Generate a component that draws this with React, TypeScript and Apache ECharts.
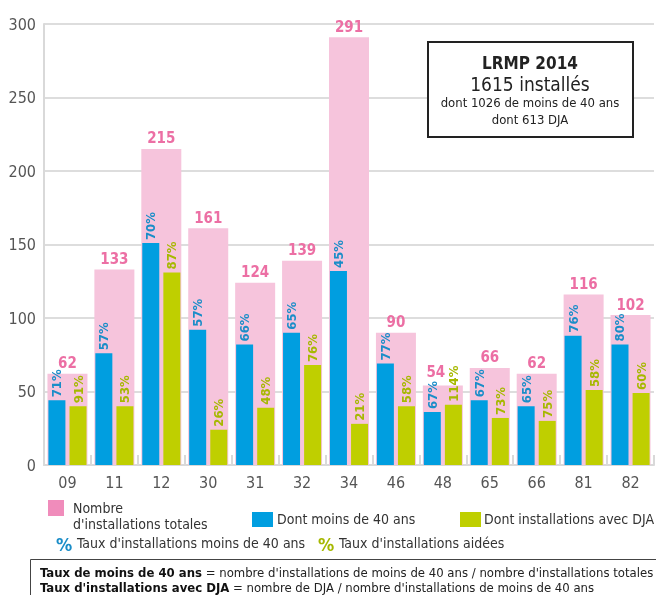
import React, { useEffect, useRef } from "react";
import * as echarts from "echarts";

const categories = ["09", "11", "12", "30", "31", "32", "34", "46", "48", "65", "66", "81", "82"];
const totalInstallations = [62, 133, 215, 161, 124, 139, 291, 90, 54, 66, 62, 116, 102];
const under40 = [44, 76, 151, 92, 82, 90, 132, 69, 36, 44, 40, 88, 82];
const withDJA = [40, 40, 131, 24, 39, 68, 28, 40, 41, 32, 30, 51, 49];
const under40Pct = [71, 57, 70, 57, 66, 65, 45, 77, 67, 67, 65, 76, 80];
const djaPct = [91, 53, 87, 26, 48, 76, 21, 58, 114, 73, 75, 58, 60];
const yTicks = { min: 0, max: 300, interval: 50 };

const FONT = "'Liberation Sans Narrow', 'DejaVu Sans Condensed', 'Roboto', sans-serif";
const PINK_BAR = "#f6c4dc";
const PINK_SWATCH = "#f08cbb";
const PINK_TEXT = "#ec6fa4";
const BLUE = "#009ee0";
const BLUE_TEXT = "#1a8dc8";
const GREEN = "#bfcf00";
const GREEN_TEXT = "#a6b800";

export default function App() {
  const ref = useRef<HTMLDivElement>(null);
  useEffect(() => {
    if (!ref.current) return;
    const chart = echarts.init(ref.current, null, { renderer: "svg" });
    const pctLabel = (arr: number[], color: string) => ({
      show: true,
      position: "top",
      rotate: 90,
      align: "left",
      verticalAlign: "middle",
      distance: 3,
      fontFamily: FONT,
      fontWeight: "bold",
      fontSize: 13,
      color,
      formatter: (p: any) => arr[p.dataIndex] + "%",
    });
    // the label of a short pink bar is nudged left when the green percentage label would overlap it
    const pinkData = totalInstallations.map((v, i) =>
      djaPct[i] > 100 ? { value: v, label: { offset: [-7, -3] } } : v
    );
    chart.setOption({
      animation: false,
      textStyle: { fontFamily: FONT },
      grid: { left: 44, right: 2, top: 24, bottom: 130, containLabel: false },
      xAxis: [
        {
          type: "category",
          data: categories,
          axisLine: { show: true, lineStyle: { color: "#d9d9d9", width: 2 } },
          axisTick: { show: true, inside: true, length: 10, lineStyle: { color: "#d9d9d9", width: 2 } },
          axisLabel: { color: "#555", fontSize: 16, margin: 9, fontFamily: FONT },
        },
        {
          type: "category",
          data: categories,
          show: false,
          position: "bottom",
        },
      ],
      yAxis: {
        type: "value",
        min: yTicks.min,
        max: yTicks.max,
        interval: yTicks.interval,
        axisLine: { show: true, lineStyle: { color: "#d9d9d9", width: 2 } },
        axisTick: { show: false },
        axisLabel: { color: "#555", fontSize: 16, margin: 8, fontFamily: FONT },
        splitLine: { show: true, lineStyle: { color: "#dddddd", width: 2 } },
      },
      series: [
        {
          type: "bar",
          name: "Nombre d'installations totales",
          xAxisIndex: 0,
          data: pinkData,
          barWidth: 40,
          itemStyle: { color: PINK_BAR },
          label: {
            show: true,
            position: "top",
            distance: 3,
            color: PINK_TEXT,
            fontWeight: "bold",
            fontSize: 15,
            fontFamily: FONT,
          },
          z: 1,
        },
        {
          type: "bar",
          name: "Dont moins de 40 ans",
          xAxisIndex: 1,
          data: under40,
          barWidth: 17,
          barGap: "24%",
          itemStyle: { color: BLUE },
          label: pctLabel(under40Pct, BLUE_TEXT),
          z: 2,
        },
        {
          type: "bar",
          name: "Dont installations avec DJA",
          xAxisIndex: 1,
          data: withDJA,
          barWidth: 17,
          barGap: "24%",
          itemStyle: { color: GREEN },
          label: pctLabel(djaPct, GREEN_TEXT),
          z: 2,
        },
      ],
      graphic: [
        {
          type: "rect",
          shape: { x: 428, y: 42, width: 205, height: 95 },
          style: { fill: "#fff", stroke: "#222", lineWidth: 2 },
          z: 10,
        },
        {
          type: "text",
          x: 530, y: 63,
          style: { text: "LRMP 2014", fontFamily: FONT, fontWeight: "bold", fontSize: 17, fill: "#222", align: "center", verticalAlign: "middle" },
          z: 11,
        },
        {
          type: "text",
          x: 530, y: 84,
          style: { text: "1615 installés", fontFamily: FONT, fontSize: 19, fill: "#222", align: "center", verticalAlign: "middle" },
          z: 11,
        },
        {
          type: "text",
          x: 530, y: 102,
          style: { text: "dont 1026 de moins de 40 ans", fontFamily: FONT, fontSize: 13, fill: "#222", align: "center", verticalAlign: "middle" },
          z: 11,
        },
        {
          type: "text",
          x: 530, y: 119,
          style: { text: "dont 613 DJA", fontFamily: FONT, fontSize: 13, fill: "#222", align: "center", verticalAlign: "middle" },
          z: 11,
        },
        // legend
        { type: "rect", shape: { x: 48, y: 500, width: 16, height: 16 }, style: { fill: PINK_SWATCH } },
        { type: "text", x: 73, y: 508, style: { text: "Nombre", fontFamily: FONT, fontSize: 14, fill: "#333", verticalAlign: "middle" } },
        { type: "text", x: 73, y: 524, style: { text: "d'installations totales", fontFamily: FONT, fontSize: 14, fill: "#333", verticalAlign: "middle" } },
        { type: "rect", shape: { x: 252, y: 512, width: 21, height: 15 }, style: { fill: BLUE } },
        { type: "text", x: 277, y: 519, style: { text: "Dont moins de 40 ans", fontFamily: FONT, fontSize: 14, fill: "#333", verticalAlign: "middle" } },
        { type: "rect", shape: { x: 460, y: 512, width: 21, height: 15 }, style: { fill: GREEN } },
        { type: "text", x: 484, y: 519, style: { text: "Dont installations avec DJA", fontFamily: FONT, fontSize: 14, fill: "#333", verticalAlign: "middle" } },
        { type: "text", x: 56, y: 544, style: { text: "%", fontFamily: FONT, fontSize: 18, fontWeight: "bold", fill: BLUE_TEXT, verticalAlign: "middle" } },
        { type: "text", x: 77, y: 543, style: { text: "Taux d'installations moins de 40 ans", fontFamily: FONT, fontSize: 14, fill: "#333", verticalAlign: "middle" } },
        { type: "text", x: 318, y: 544, style: { text: "%", fontFamily: FONT, fontSize: 18, fontWeight: "bold", fill: GREEN_TEXT, verticalAlign: "middle" } },
        { type: "text", x: 339, y: 543, style: { text: "Taux d'installations aidées", fontFamily: FONT, fontSize: 14, fill: "#333", verticalAlign: "middle" } },
        // footer
        { type: "rect", shape: { x: 30.5, y: 559.5, width: 700, height: 100 }, style: { fill: "none", stroke: "#444", lineWidth: 1 } },
        {
          type: "text", x: 40, y: 572,
          style: {
            text: "{b|Taux de moins de 40 ans} = nombre d'installations de moins de 40 ans / nombre d'installations totales",
            fontFamily: FONT, fontSize: 13, fill: "#222", verticalAlign: "middle",
            rich: { b: { fontFamily: FONT, fontSize: 13, fontWeight: "bold", fill: "#111" } },
          },
        },
        {
          type: "text", x: 40, y: 587,
          style: {
            text: "{b|Taux d'installations avec DJA} = nombre de DJA / nombre d'installations de moins de 40 ans",
            fontFamily: FONT, fontSize: 13, fill: "#222", verticalAlign: "middle",
            rich: { b: { fontFamily: FONT, fontSize: 13, fontWeight: "bold", fill: "#111" } },
          },
        },
      ],
    });
    return () => chart.dispose();
  }, []);
  return <div ref={ref} style={{ position: "fixed", left: 0, top: 0, width: 656, height: 595 }} />;
}
